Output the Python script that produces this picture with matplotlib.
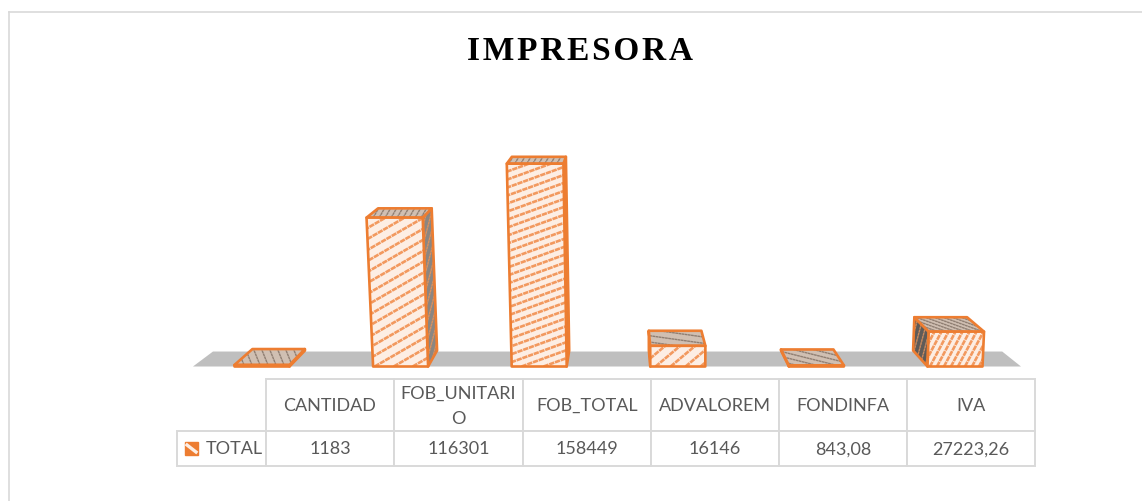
import numpy as np
import matplotlib
matplotlib.use('Agg')
import matplotlib.pyplot as plt
from matplotlib.collections import LineCollection
from matplotlib.patches import Polygon, Rectangle
from matplotlib.transforms import IdentityTransform

categories = ['CANTIDAD', 'FOB_UNITARI\nO', 'FOB_TOTAL', 'ADVALOREM', 'FONDINFA', 'IVA']
values = [1183, 116301, 158449, 16146, 843.08, 27223.26]
value_labels = ['1183', '116301', '158449', '16146', '843,08', '27223,26']
series_name = 'TOTAL'
title = 'IMPRESORA'

# per bar hatch look, the pattern gets stretched with the bar: angle, spacing along x in px
front_hatch = [(30, 14), (30, 19), (20, 22), (40, 15), (30, 14), (62, 7)]
top_hatch = [(112, 8), (60, 6), (60, 6), (-8, 45), (-14, 20), (-20, 9)]

ORANGE = '#ED7D31'
LIGHT = '#FDEEE4'
GRID = '#D9D9D9'
TEXT = '#595959'

W, H = 1142, 502
PX_X = 138.6   # px per category
PX_Y = 0.00128 # px per value unit
BASE_X, BASE_Y = 262, 367.5
BAR_W = 55 / PX_X

fig = plt.figure(figsize=(W / 100, H / 100), dpi=100)
ax = fig.add_axes([0, 0, 1, 1])
ax.set_xlim(-BASE_X / PX_X, (W - BASE_X) / PX_X)
ax.set_ylim(-(H - BASE_Y) / PX_Y, BASE_Y / PX_Y)
ax.axis('off')


def project(x, v, depth=0.0):
    # fake the excel 3d perspective
    x2 = x + (x - 3.016) * 1.84e-7 * v - 0.0468 * (x - 2.583) * depth
    y2 = v * (1 - 0.045 * depth) + 12500 * depth
    return x2, y2


def hatch_lines(patch, angle, spacing, color, lw):
    pts = ax.transData.transform(patch.get_xy())
    x0, y0 = pts.min(axis=0)
    x1, y1 = pts.max(axis=0)
    run = (y1 - y0) / np.tan(np.radians(angle))
    segs = []
    for c in np.arange(x0 - abs(run), x1 + abs(run) + spacing, spacing):
        segs.append([(c, y0), (c + run, y1)])
    lc = LineCollection(segs, colors=color, linewidths=lw, linestyles=[(0, (2, 0.3))],
                        transform=IdentityTransform(), zorder=patch.get_zorder())
    ax.add_collection(lc, autolim=False)
    lc.set_clip_path(patch)


def face(points, fill, z, angle, spacing, hatch_color, lw):
    p = Polygon(points, closed=True, facecolor=fill, edgecolor='none', zorder=z)
    ax.add_patch(p)
    hatch_lines(p, angle, spacing, hatch_color, lw)
    ax.add_patch(Polygon(points, closed=True, fill=False, edgecolor=ORANGE,
                         linewidth=1.9, joinstyle='round', zorder=z + 0.1))


# floor
fx0, fx1 = -0.498, 5.476
floor_back = 11700
ax.add_patch(Polygon([(fx0, 0), (fx1, 0), (project(fx1, 0, 1)[0], floor_back),
                      (project(fx0, 0, 1)[0], floor_back)],
                     closed=True, facecolor='#BFBFBF', edgecolor='none', zorder=1))

# bars
for i, v in enumerate(values):
    l, r = i - BAR_W / 2, i + BAR_W / 2
    fl, fr = project(l, 0), project(r, 0)
    tl, tr = project(l, v), project(r, v)
    bl, br = project(l, 0, 1), project(r, 0, 1)
    tbl, tbr = project(l, v, 1), project(r, v, 1)
    z = 2 + i
    if br[0] > fr[0]:
        face([fr, br, tbr, tr], '#8C8681', z, 75, 5, '#D9915F', 1.0)
    if bl[0] < fl[0]:
        face([fl, bl, tbl, tl], '#5F5B58', z, 75, 5, '#C98A5E', 1.0)
    ang, sp = top_hatch[i]
    face([tl, tr, tbr, tbl], '#D0BFB2', z + 0.2, ang, sp, '#8F7E72', 1.0)
    ang, sp = front_hatch[i]
    face([fl, fr, tr, tl], LIGHT, z + 0.4, ang, sp, '#F2995F', 1.9)

# table, the first column holds the row label and its header cell stays blank
col_w = [89, 128, 129, 128, 128, 128, 128]
table = ax.table(cellText=[[''] + categories, [series_name] + value_labels],
                 colWidths=[c / W for c in col_w], cellLoc='center',
                 bbox=[177 / W, (H - 467) / H, (1035 - 177) / W, 87 / H], zorder=20)
table.auto_set_font_size(False)
for (r, c), cell in table.get_celld().items():
    cell.set_edgecolor(GRID)
    cell.set_linewidth(1.4)
    cell.set_height((52 if r == 0 else 35) / H)
    cell.get_text().set_color(TEXT)
    cell.get_text().set_fontsize(13)
    cell.get_text().set_fontfamily('Lato')
    cell.get_text().set_linespacing(1.7)
table[(0, 0)].visible_edges = ''
table[(1, 0)].PAD = 0.03
table[(1, 0)].get_text().set_ha('right')

# legend key inside the table
key = Rectangle((185, H - 456), 13, 13, transform=IdentityTransform(), facecolor=ORANGE,
                edgecolor=ORANGE, zorder=25)
ax.add_patch(key)
ax.add_line(plt.Line2D([187, 196], [H - 446, H - 453], color=LIGHT, lw=2.4,
                       transform=IdentityTransform(), zorder=26))

fig.text(580 / W, (H - 52) / H, '\u200a'.join(title), fontsize=24, fontweight='bold',
         family='Liberation Serif', color='black', ha='center', va='center')

# chart frame, only top and left are inside the crop
fig.add_artist(plt.Line2D([8.5 / W, 1], [(H - 13) / H, (H - 13) / H], color=GRID, lw=1.2))
fig.add_artist(plt.Line2D([8.5 / W, 8.5 / W], [0, (H - 13) / H], color=GRID, lw=1.2))

fig.savefig('out.png', dpi=100, facecolor='white')
